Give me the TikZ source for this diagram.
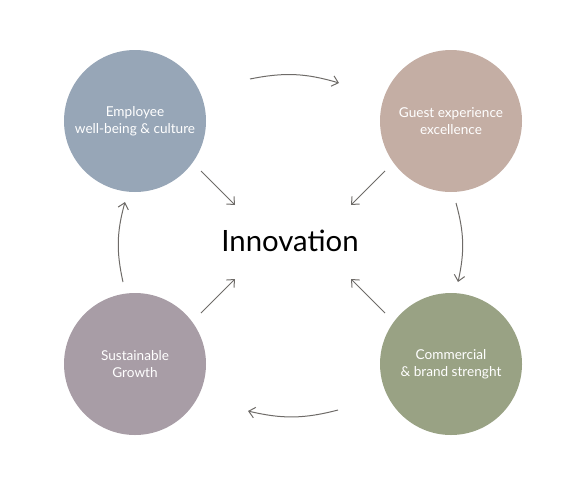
\documentclass[tikz,border=0pt]{standalone}
\usepackage{fontspec}
\setmainfont{Lato}
\usetikzlibrary{arrows.meta}
\definecolor{employee}{HTML}{97A6B7}
\definecolor{guest}{HTML}{C4AEA4}
\definecolor{growth}{HTML}{A89DA6}
\definecolor{brand}{HTML}{99A284}
\definecolor{arrowgray}{HTML}{6E6B68}
\begin{document}
\begin{tikzpicture}[x=0.75pt, y=-0.75pt,
        area/.style={circle, minimum size=106.5pt, inner sep=0pt, text=white, align=center, font=\fontsize{10.2}{12.75}\selectfont},
        flow/.style={draw=arrowgray, line width=0.75pt, -{Straight Barb[length=4.5pt,width=8pt]}}]
        \useasboundingbox (0,0) rectangle (580,489);
        \node[area, fill=employee] (emp) at (135,121) {Employee\\well-being \& culture};
        \node[area, fill=guest] (guest) at (451,121) {Guest experience\\excellence};
        \node[area, fill=growth] (growth) at (135,364) {Sustainable\\Growth};
        \node[area, fill=brand] (brand) at (451,364) {Commercial\\\& brand strenght};
        \node[font=\fontsize{22}{26}\selectfont] (inno) at (290,241) {Innovation};
        
        \coordinate (e1) at (250,79);  \coordinate (g1) at (339,83);
        \coordinate (g2) at (456,203); \coordinate (b2) at (458,282);
        \coordinate (b3) at (338,410); \coordinate (s3) at (248,411);
        \coordinate (s4) at (123,282); \coordinate (e4) at (125,202);
        \coordinate (e5) at (201,171); \coordinate (i5) at (235,205);
        \coordinate (g6) at (385,171); \coordinate (i6) at (351,205);
        \coordinate (s7) at (201,313); \coordinate (i7) at (235,279);
        \coordinate (b8) at (385,313); \coordinate (i8) at (351,279);
        
        \draw[flow] (e1) to[bend left=14] (g1);
        \draw[flow] (g2) to[bend left=14] (b2);
        \draw[flow] (b3) to[bend left=14] (s3);
        \draw[flow] (s4) to[bend left=14] (e4);
        \draw[flow] (e5) -- (i5);
        \draw[flow] (g6) -- (i6);
        \draw[flow] (s7) -- (i7);
        \draw[flow] (b8) -- (i8);
    \end{tikzpicture}
\end{document}
